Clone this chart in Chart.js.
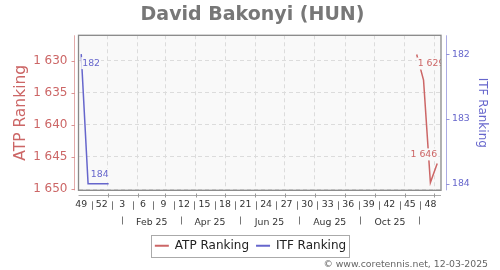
<!DOCTYPE html>
<html>
<head>
<meta charset="utf-8">
<script src="https://cdn.jsdelivr.net/npm/chart.js@4/dist/chart.umd.min.js"></script>
<style>
  html, body { margin: 0; padding: 0; background: #fff; }
  canvas { display: block; }
</style>
</head>
<body>
<canvas id="rankChart" width="500" height="270"></canvas>
<script>
const playerName = 'David Bakonyi (HUN)';
const footerText = '© www.coretennis.net, 12-03-2025';

// x = weeks counted from week 49 of 2024 (0)
const atpWeeks = [49, 50, 51, 52];
const atpRanks = [1629, 1633, 1649, 1646];
const itfWeeks = [0, 1, 2, 3, 4];
const itfRanks = [182, 184, 184, 184, 184];

const weekTickPos = [0, 3, 6, 9, 12, 15, 18, 21, 24, 27, 30, 33, 36, 39, 42, 45, 48, 51];
const weekTickLabels = ['49', '52', '3', '6', '9', '12', '15', '18', '21', '24', '27', '30', '33', '36', '39', '42', '45', '48'];
const monthStartPos = [3.857, 8.286, 12.286, 16.714, 21, 25.429, 29.714, 34.143, 38.571, 42.857, 47.286, 51.571];
const monthLabelPos = [10.3, 18.8, 27.5, 36.3, 45.1];
const monthLabels = ['Feb 25', 'Apr 25', 'Jun 25', 'Aug 25', 'Oct 25'];
const monthSepPos = [6.0, 14.5, 23.2, 31.8, 40.7, 49.4];
const atpTicks = [1630, 1635, 1640, 1645, 1650];
const itfTicks = [182, 183, 184];

const xMin = -0.4, xMax = 52.55;
const ATP_COLOR = '#cc6666';
const ITF_COLOR = '#6666cc';
const PLOT_BG = '#f9f9f9';
const FONT = '"DejaVu Sans", sans-serif';

Chart.defaults.font.family = FONT;

const fmt = v => String(v).replace(/\B(?=(\d{3})+(?!\d))/g, ' ');

function line(ctx, x1, y1, x2, y2, color) {
    ctx.beginPath();
    ctx.strokeStyle = color;
    ctx.lineWidth = 1;
    ctx.moveTo(x1, y1);
    ctx.lineTo(x2, y2);
    ctx.stroke();
}
const snap = v => Math.round(v) + 0.5;

// plot background, frame, offset axis lines, separators, title and footer
const framePlugin = {
    id: 'frame',
    beforeDraw(chart) {
        const { ctx, chartArea: a } = chart;
        ctx.save();
        ctx.fillStyle = PLOT_BG;
        ctx.fillRect(a.left, a.top, a.right - a.left, a.bottom - a.top);
        ctx.restore();
    },
    afterDatasetsDraw(chart) {
        // first / last value labels
        const { ctx, chartArea: a } = chart;
        ctx.save();
        ctx.beginPath();
        ctx.rect(a.left, a.top, a.right - a.left, a.bottom - a.top);
        ctx.clip();
        ctx.font = '9.33px ' + FONT;
        ctx.textBaseline = 'middle';
        ctx.textAlign = 'left';
        chart.data.datasets.forEach((ds, di) => {
            const pts = chart.getDatasetMeta(di).data;
            [[0, 'left', 9], [pts.length - 1, 'right', -9]].forEach(([i, side, dy]) => {
                const p = pts[i];
                const txt = fmt(ds.data[i].y);
                const w = ctx.measureText(txt).width;
                const x0 = side === 'left' ? p.x + 1 : p.x - w;
                ctx.fillStyle = PLOT_BG;
                ctx.fillRect(x0 - 1, p.y + dy - 6, w + 2, 12);
                ctx.fillStyle = ds.borderColor;
                ctx.fillText(txt, x0, p.y + dy);
            });
        });
        ctx.restore();
    },
    afterDraw(chart) {
        const { ctx, chartArea: a, scales } = chart;
        ctx.save();

        ctx.strokeStyle = '#888';
        ctx.lineWidth = 1.3;
        ctx.strokeRect(a.left, a.top, a.right - a.left, a.bottom - a.top);

        // left axis
        const lx = snap(a.left - 5);
        line(ctx, lx, a.top, lx, a.bottom, 'rgba(204,102,102,0.55)');
        atpTicks.forEach(v => {
            const y = snap(scales.y.getPixelForValue(v));
            line(ctx, lx - 3, y, lx, y, 'rgba(204,102,102,0.7)');
        });
        // right axis
        const rx = snap(a.right + 5);
        line(ctx, rx, a.top, rx, a.bottom, 'rgba(102,102,204,0.55)');
        itfTicks.forEach(v => {
            const y = snap(scales.y1.getPixelForValue(v));
            line(ctx, rx, y, rx + 3, y, 'rgba(102,102,204,0.7)');
        });
        // bottom axis
        const by = snap(a.bottom + 5);
        line(ctx, a.left, by, a.right, by, '#aaa');
        monthStartPos.forEach(v => {
            const x = snap(scales.xg.getPixelForValue(v));
            line(ctx, x, by - 2, x, by + 2, '#999');
        });

        // separators between week labels
        const wt = scales.x.top;
        for (let i = 1; i < weekTickPos.length; i++) {
            const x = snap(scales.x.getPixelForValue((weekTickPos[i - 1] + weekTickPos[i]) / 2));
            line(ctx, x, wt + 11, x, wt + 19.5, '#777');
        }
        // separators in month row
        const mt = scales.x2.top;
        monthSepPos.forEach(v => {
            const x = snap(scales.x2.getPixelForValue(v));
            line(ctx, x, mt + 5.5, x, mt + 13.5, '#777');
        });

        // legend frame
        const hb = chart.legend.legendHitBoxes;
        const l = Math.min(...hb.map(b => b.left)) - 3.5;
        const r = Math.max(...hb.map(b => b.left + b.width)) + 3.5;
        ctx.strokeStyle = '#aaa';
        ctx.lineWidth = 1;
        ctx.strokeRect(Math.round(l) + 0.5, Math.round(hb[0].top - 5) + 0.5, Math.round(r - l), Math.round(hb[0].height + 10));

        // title
        ctx.font = 'bold 19px ' + FONT;
        ctx.fillStyle = '#777';
        ctx.textAlign = 'center';
        ctx.textBaseline = 'alphabetic';
        ctx.fillText(playerName, 252.5, 19.5);

        // footer
        ctx.font = '9.33px ' + FONT;
        ctx.fillStyle = '#666';
        ctx.textAlign = 'right';
        ctx.fillText(footerText, 488, 266.5);
        ctx.restore();
    }
};

new Chart(document.getElementById('rankChart'), {
    type: 'line',
    data: {
        datasets: [
            {
                label: 'ATP Ranking',
                data: atpWeeks.map((w, i) => ({ x: w, y: atpRanks[i] })),
                borderColor: ATP_COLOR,
                backgroundColor: ATP_COLOR,
                borderWidth: 1.5,
                pointRadius: 0,
                tension: 0,
                xAxisID: 'x',
                yAxisID: 'y'
            },
            {
                label: 'ITF Ranking',
                data: itfWeeks.map((w, i) => ({ x: w, y: itfRanks[i] })),
                borderColor: ITF_COLOR,
                backgroundColor: ITF_COLOR,
                borderWidth: 1.5,
                pointRadius: 0,
                tension: 0,
                xAxisID: 'x',
                yAxisID: 'y1'
            }
        ]
    },
    options: {
        responsive: false,
        animation: false,
        events: [],
        layout: { padding: { left: 7.5, right: 6.5, top: 35.3, bottom: 8.3 } },
        plugins: {
            tooltip: { enabled: false },
            title: { display: false },
            legend: {
                position: 'bottom',
                labels: {
                    boxWidth: 14,
                    boxHeight: 2,
                    padding: 7,
                    color: '#222',
                    font: { size: 12 },
                    generateLabels: chart => chart.data.datasets.map((ds, i) => ({
                        text: ds.label,
                        fillStyle: ds.borderColor,
                        strokeStyle: ds.borderColor,
                        lineWidth: 0,
                        hidden: false,
                        datasetIndex: i,
                        fontColor: '#222'
                    }))
                }
            }
        },
        scales: {
            xg: {
                axis: 'x', type: 'linear', position: 'bottom', weight: 0,
                min: xMin, max: xMax, bounds: 'data',
                afterBuildTicks: s => { s.ticks = monthStartPos.map(v => ({ value: v })); },
                afterFit: s => { s.height = 0; },
                ticks: { display: false },
                grid: { color: '#dcdcdc', drawTicks: false },
                border: { display: false, dash: [4, 3] }
            },
            x: {
                axis: 'x', type: 'linear', position: 'bottom', weight: 1,
                min: xMin, max: xMax, bounds: 'data',
                afterBuildTicks: s => { s.ticks = weekTickPos.map(v => ({ value: v })); },
                afterFit: s => { s.height = 20.7; },
                ticks: {
                    autoSkip: false, maxRotation: 0, padding: 8.7,
                    font: { size: 9.33 }, color: '#333',
                    callback: (v, i) => weekTickLabels[i]
                },
                grid: { display: false, drawTicks: false },
                border: { display: false }
            },
            x2: {
                axis: 'x', type: 'linear', position: 'bottom', weight: 2,
                min: xMin, max: xMax, bounds: 'data',
                afterBuildTicks: s => { s.ticks = monthLabelPos.map(v => ({ value: v })); },
                afterFit: s => { s.height = 21.7; },
                ticks: {
                    autoSkip: false, maxRotation: 0, padding: 6,
                    font: { size: 9.33 }, color: '#333',
                    callback: (v, i) => monthLabels[i]
                },
                grid: { display: false, drawTicks: false },
                border: { display: false }
            },
            y: {
                type: 'linear', position: 'left', reverse: true,
                min: 1626, max: 1650.2, bounds: 'data',
                afterBuildTicks: s => { s.ticks = atpTicks.map(v => ({ value: v })); },
                afterFit: s => { s.width = 71; },
                ticks: {
                    padding: 11, font: { size: 12 }, color: ATP_COLOR,
                    callback: v => fmt(v)
                },
                title: {
                    display: true, text: 'ATP Ranking', color: ATP_COLOR,
                    font: { size: 15.5 }, padding: { top: 4, bottom: 3 }
                },
                grid: { color: '#dcdcdc', drawTicks: false },
                border: { display: false, dash: [4, 3] }
            },
            y1: {
                type: 'linear', position: 'right', reverse: true,
                min: 181.71, max: 184.1, bounds: 'data',
                afterBuildTicks: s => { s.ticks = itfTicks.map(v => ({ value: v })); },
                afterFit: s => { s.width = 52.5; },
                ticks: { padding: 11, font: { size: 9.33 }, color: ITF_COLOR },
                title: {
                    display: true, text: 'ITF Ranking', color: ITF_COLOR,
                    font: { size: 12 }, padding: { top: 4, bottom: 4 }
                },
                grid: { display: false, drawOnChartArea: false, drawTicks: false },
                border: { display: false }
            }
        }
    },
    plugins: [framePlugin]
});
</script>
</body>
</html>
